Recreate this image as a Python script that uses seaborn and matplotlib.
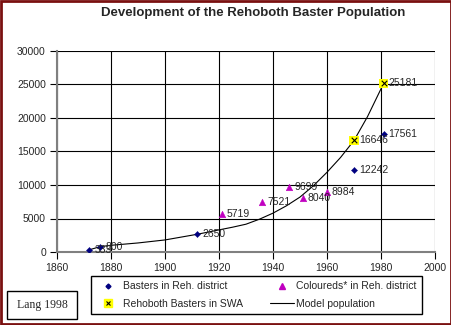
import matplotlib
matplotlib.use("Agg")
import matplotlib.pyplot as plt
import seaborn as sns
import pandas as pd
from matplotlib.patches import Rectangle
from matplotlib.lines import Line2D
from matplotlib.legend_handler import HandlerTuple

# ---- data ----
baster_years = [1872, 1876, 1912, 1970, 1981]
baster_vals = [333, 800, 2650, 12242, 17561]

coloured_years = [1921, 1936, 1946, 1951, 1960]
coloured_vals = [5719, 7521, 9699, 8040, 8984]

swa_years = [1970, 1981]
swa_vals = [16646, 25181]

model_years = [1872, 1876, 1880, 1890, 1900, 1912, 1920, 1925, 1930, 1935,
               1940, 1945, 1950, 1955, 1960, 1965, 1970, 1975, 1981]
model_vals = [333, 800, 1000, 1350, 1800, 2650, 3300, 3700, 4150, 4900,
              5800, 6900, 8200, 9900, 11900, 14100, 16646, 20200, 25181]

x_ticks = [1860, 1880, 1900, 1920, 1940, 1960, 1980, 2000]
y_ticks = [0, 5000, 10000, 15000, 20000, 25000, 30000]

title = "Development of the Rehoboth Baster Population"
labels = ["Basters in Reh. district", "Coloureds* in Reh. district",
          "Rehoboth Basters in SWA", "Model population"]
source = "Lang 1998"

sns.set_style("white")
plt.rcParams['font.family'] = ['Liberation Sans', 'DejaVu Sans']

W, H = 452, 325
fig = plt.figure(figsize=(W / 100, H / 100), dpi=100)
fig.patch.set_facecolor("white")
ax = fig.add_axes([57 / W, 1 - 252 / H, (435 - 57) / W, (252 - 51) / H])

df_b = pd.DataFrame({"year": baster_years, "pop": baster_vals})
df_c = pd.DataFrame({"year": coloured_years, "pop": coloured_vals})
df_s = pd.DataFrame({"year": swa_years, "pop": swa_vals})
df_m = pd.DataFrame({"year": model_years, "pop": model_vals})

navy = "#000080"
magenta = "#c000c0"

sns.lineplot(data=df_m, x="year", y="pop", ax=ax, color="black", lw=0.8,
             zorder=3, legend=False)
sns.scatterplot(data=df_s, x="year", y="pop", ax=ax, marker="s", s=45,
                color="#ffff00", edgecolor="none", zorder=4, legend=False)
sns.scatterplot(data=df_s, x="year", y="pop", ax=ax, marker="x", s=16,
                color="black", linewidth=0.8, zorder=5, legend=False)
sns.scatterplot(data=df_b, x="year", y="pop", ax=ax, marker="D", s=10,
                color=navy, edgecolor=navy, zorder=5, legend=False)
sns.scatterplot(data=df_c, x="year", y="pop", ax=ax, marker="^", s=22,
                color=magenta, edgecolor=magenta, zorder=5, legend=False)

for xs, ys in [(baster_years, baster_vals), (coloured_years, coloured_vals),
               (swa_years, swa_vals)]:
    for x, y in zip(xs, ys):
        ax.annotate(f"{y}", (x, y), xytext=(5, 0), textcoords="offset pixels",
                    fontsize=7.5, va="center", ha="left", zorder=6)

ax.set_xlim(1860, 2000)
ax.set_ylim(0, 30000)
ax.set_xticks(x_ticks)
ax.set_yticks(y_ticks)
ax.set_xlabel("")
ax.set_ylabel("")
ax.grid(True, color="black", lw=0.8)
ax.set_axisbelow(True)
for side in ["top", "right"]:
    ax.spines[side].set_visible(False)
for side in ["left", "bottom"]:
    ax.spines[side].set_color("#808080")
    ax.spines[side].set_linewidth(1.5)
ax.tick_params(axis="both", labelsize=7.5, length=5, width=0.8, color="black",
               direction="out", left=True, bottom=True, pad=3)

fig.text(253 / W, 1 - 13 / H, title, ha="center", va="center",
         fontsize=9.5, fontweight="bold")

h_b = Line2D([], [], marker="D", color=navy, lw=0, markersize=2.5)
h_c = Line2D([], [], marker="^", color=magenta, lw=0, markersize=4)
h_s = (Line2D([], [], marker="s", color="#ffff00", lw=0, markersize=6),
       Line2D([], [], marker="x", color="black", lw=0, markersize=3.5,
              markeredgewidth=0.8))
h_m = Line2D([], [], color="black", lw=0.8)
leg = fig.legend([h_b, h_s, h_c, h_m],
                 [labels[0], labels[2], labels[1], labels[3]],
                 ncol=2, loc="upper left",
                 bbox_to_anchor=(91 / W, 1 - 276 / H),
                 fontsize=7.5, frameon=True, fancybox=False,
                 edgecolor="black", framealpha=1, borderpad=0.5,
                 labelspacing=0.75, handlelength=2.3, handletextpad=0.25,
                 columnspacing=2.6, borderaxespad=0,
                 handler_map={tuple: HandlerTuple(ndivide=1)})
leg.get_frame().set_linewidth(1.0)

fig.patches.append(Rectangle((7 / W, 1 - 319 / H), 70 / W, 28 / H,
                             transform=fig.transFigure, facecolor="white",
                             edgecolor="black", lw=1.0))
fig.text(42 / W, 1 - 305 / H, source, ha="center", va="center",
         fontsize=8.5, family=["Liberation Serif", "DejaVu Serif"])

fig.patches.append(Rectangle((0.002, 0.003), 0.996, 0.994,
                             transform=fig.transFigure, facecolor="none",
                             edgecolor="#7a1010", lw=2))

fig.savefig("out.png", dpi=100)
